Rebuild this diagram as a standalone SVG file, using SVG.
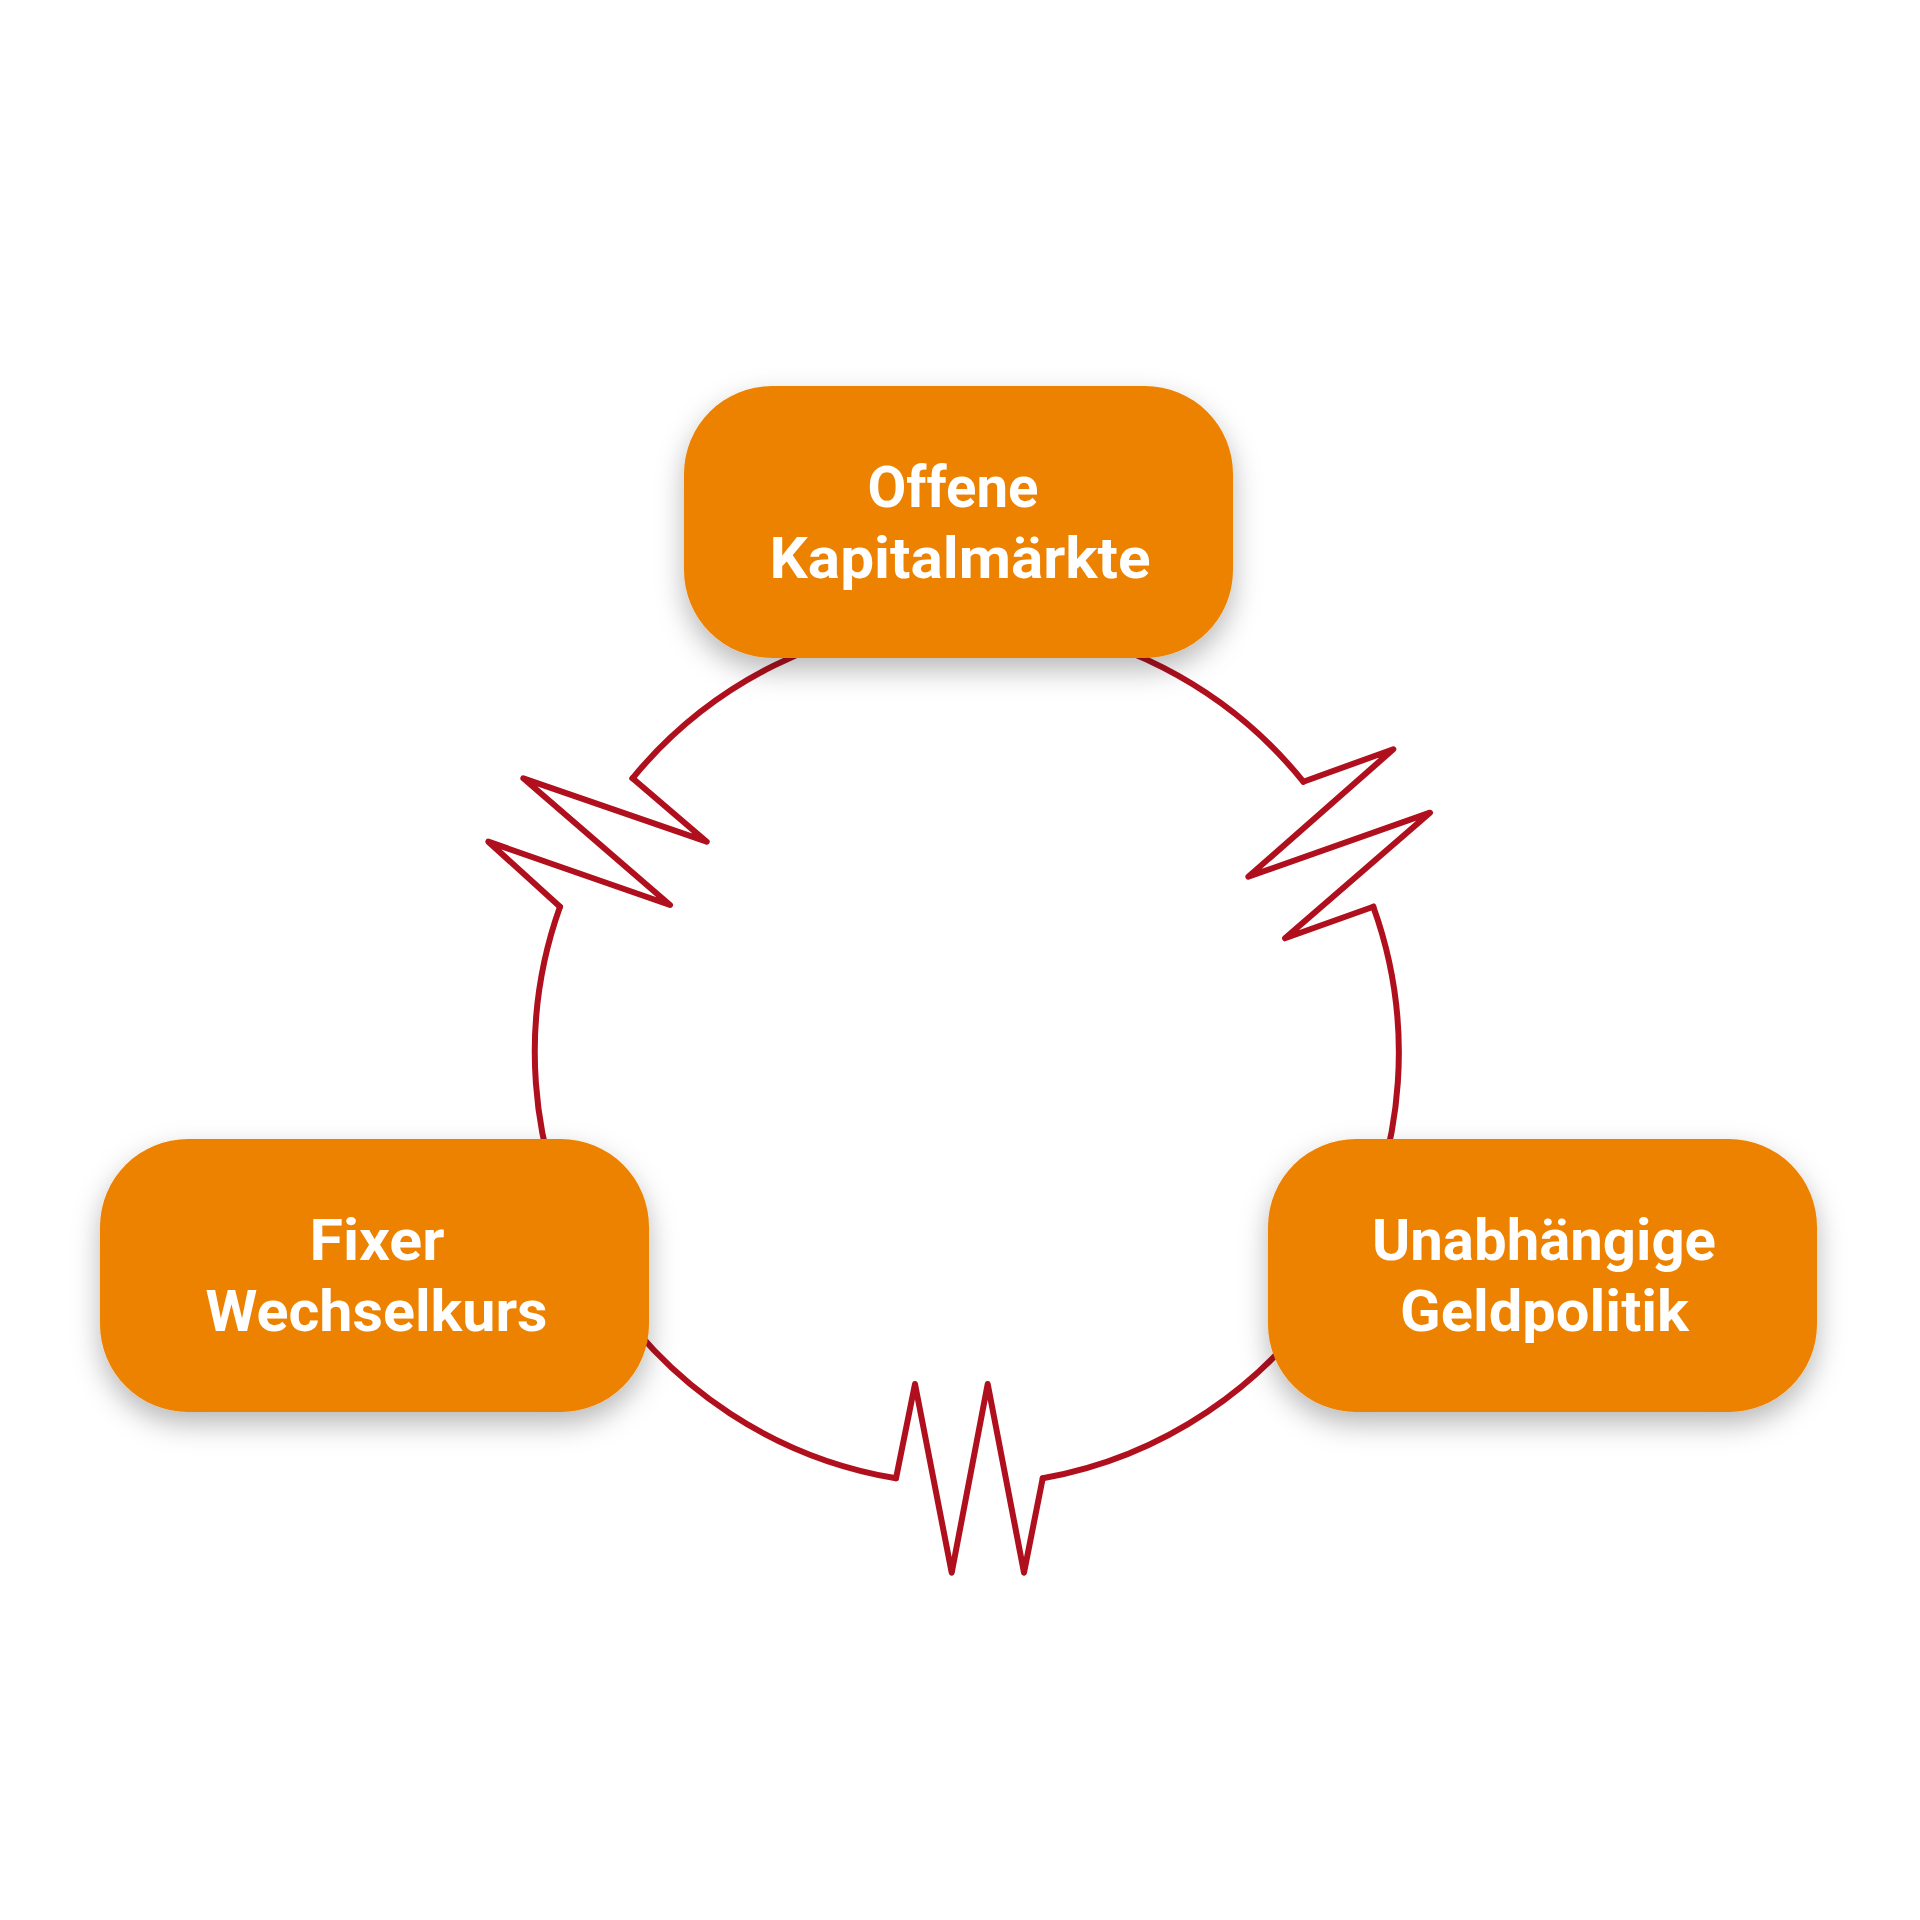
<svg xmlns="http://www.w3.org/2000/svg" width="1920" height="1920" viewBox="0 0 1920 1920">
  <defs>
    <filter id="shadow" x="-20%" y="-20%" width="140%" height="160%">
      <feDropShadow dx="0" dy="12" stdDeviation="14" flood-color="#000" flood-opacity="0.28"/>
    </filter>
    <style>
      .box { fill: #EC8200; filter: url(#shadow); }
      .label { fill: #FFFFFF; font-family: Roboto, "DejaVu Sans", sans-serif; font-weight: 700; font-size: 58px; text-anchor: middle; }
      .link { fill: none; stroke: #B0101E; stroke-width: 6; stroke-linejoin: round; stroke-linecap: round; }
    </style>
  </defs>
  <rect width="1920" height="1920" fill="#FFFFFF"/>

  <g id="connectors">
    <path class="link" d="M 1303.3 781.7 A 432 432 0 0 0 632.5 778.3"/>
    <path class="link" d="M 632.5 778.3 L 706.7 841.7 L 523.3 778.3 L 670 905 L 488.3 841.7 L 560 906.7"/>
    <path class="link" d="M 560 906.7 A 432 432 0 0 0 896 1478.3"/>
    <path class="link" d="M 896 1478.3 L 915 1384 L 951.7 1572.7 L 987.7 1384 L 1024 1572.7 L 1042.7 1478.3"/>
    <path class="link" d="M 1042.7 1478.3 A 432 432 0 0 0 1373.3 906.7"/>
    <path class="link" d="M 1373.3 906.7 L 1285 938.3 L 1430 812.7 L 1248.3 876.7 L 1393.3 749.3 L 1303.3 781.7"/>
  </g>

  <g id="node-kapitalmaerkte">
    <rect class="box" x="684" y="386" width="549" height="272" rx="88" ry="88"/>
    <text class="label" x="953" y="507" textLength="171" lengthAdjust="spacingAndGlyphs">Offene</text>
    <text class="label" x="960" y="578" textLength="381" lengthAdjust="spacingAndGlyphs">Kapitalmärkte</text>
  </g>

  <g id="node-wechselkurs">
    <rect class="box" x="100" y="1139" width="549" height="273" rx="88" ry="88"/>
    <text class="label" x="377" y="1260" textLength="135" lengthAdjust="spacingAndGlyphs">Fixer</text>
    <text class="label" x="376.5" y="1331" textLength="342" lengthAdjust="spacingAndGlyphs">Wechselkurs</text>
  </g>

  <g id="node-geldpolitik">
    <rect class="box" x="1268" y="1139" width="549" height="273" rx="88" ry="88"/>
    <text class="label" x="1544" y="1260" textLength="344" lengthAdjust="spacingAndGlyphs">Unabhängige</text>
    <text class="label" x="1544.5" y="1331" textLength="289" lengthAdjust="spacingAndGlyphs">Geldpolitik</text>
  </g>
</svg>
